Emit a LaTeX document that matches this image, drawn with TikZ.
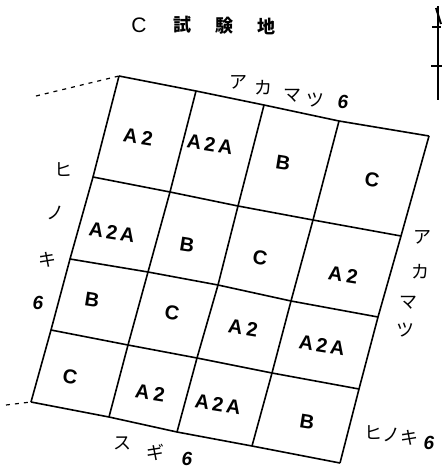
\documentclass[tikz,border=0pt]{standalone}
\usepackage{fontspec}
\setmainfont{Liberation Sans}
\newfontfamily\jp{Noto Sans CJK JP}
\begin{document}
\begin{tikzpicture}[x=1pt,y=-1pt,
  gridline/.style={line width=1.6pt, line join=round},
  cell/.style={font=\fontsize{20}{20}\selectfont\bfseries, rotate=-9, inner sep=0pt},
  jpl/.style={font=\jp\fontsize{18}{18}\selectfont, inner sep=0pt},
  jpt/.style={font=\jp\bfseries\fontsize{18}{18}\selectfont, inner sep=0pt},
  num/.style={font=\fontsize{19}{19}\selectfont\bfseries\itshape, inner sep=0pt},
  dashline/.style={line width=1.2pt, dash pattern=on 4pt off 5pt}]
\useasboundingbox (0,0) rectangle (442,474);
% grid vertices
\coordinate (v00) at (119,76);  \coordinate (v01) at (196,91);  \coordinate (v02) at (264,105); \coordinate (v03) at (339,121); \coordinate (v04) at (429,136);
\coordinate (v10) at (93,177);  \coordinate (v11) at (170,192); \coordinate (v12) at (238,206); \coordinate (v13) at (313,220); \coordinate (v14) at (401,236);
\coordinate (v20) at (70,259);  \coordinate (v21) at (148,272); \coordinate (v22) at (218,285); \coordinate (v23) at (291,301); \coordinate (v24) at (378,317);
\coordinate (v30) at (51,330);  \coordinate (v31) at (128,345); \coordinate (v32) at (197,358); \coordinate (v33) at (272,373); \coordinate (v34) at (359,389);
\coordinate (v40) at (31,402);  \coordinate (v41) at (109,417); \coordinate (v42) at (177,432); \coordinate (v43) at (252,446); \coordinate (v44) at (340,463);
\foreach \r in {0,...,4}{
  \draw[gridline] (v\r0) -- (v\r1) -- (v\r2) -- (v\r3) -- (v\r4);
  \draw[gridline] (v0\r) -- (v1\r) -- (v2\r) -- (v3\r) -- (v4\r);
}
% dashed extensions
\coordinate (d1) at (36,96);
\coordinate (d2) at (6,405);
\draw[dashline] (d1) -- (v00);
\draw[dashline] (d2) -- (v40);
% north marker
\coordinate (n1) at (438,6);
\coordinate (n2) at (438,100);
\draw[line width=1.5pt] (n1) -- (n2);
\coordinate (t1a) at (432,27); \coordinate (t1b) at (441,27);
\coordinate (t2a) at (431,66); \coordinate (t2b) at (442,66);
\draw[line width=1.4pt] (t1a) -- (t1b);
\draw[line width=1.4pt] (t2a) -- (t2b);
\coordinate (na) at (436,8); \coordinate (nb) at (441,24);
\draw[line width=2pt] (na) -- (nb);
% title
\node[font=\fontsize{21}{21}\selectfont, inner sep=0pt] (tC) at (139,25) {C};
\node[jpt] (t1) at (182,25) {試};
\node[jpt] (t2) at (224,26) {験};
\node[jpt] (t3) at (266,26) {地};
% cell labels
\node[cell] (c11) at (138,137) {A\kern4pt2};
\node[cell] (c12) at (210,144) {A\kern3pt2\kern3ptA};
\node[cell] (c13) at (283,163) {B};
\node[cell] (c14) at (372,180) {C};
\node[cell] (c21) at (112,232) {A\kern3pt2\kern3ptA};
\node[cell] (c22) at (187,245) {B};
\node[cell] (c23) at (260,258) {C};
\node[cell] (c24) at (343,275) {A\kern4pt2};
\node[cell] (c31) at (92,300) {B};
\node[cell] (c32) at (172,313) {C};
\node[cell] (c33) at (243,328) {A\kern4pt2};
\node[cell] (c34) at (322,345) {A\kern3pt2\kern3ptA};
\node[cell] (c41) at (70,377) {C};
\node[cell] (c42) at (150,393) {A\kern4pt2};
\node[cell] (c43) at (218,404) {A\kern3pt2\kern3ptA};
\node[cell] (c44) at (307,422) {B};
% top label
\node[jpl] (a1) at (238,82) {ア};
\node[jpl] (a2) at (263,88) {カ};
\node[jpl] (a3) at (292,96) {マ};
\node[jpl] (a4) at (315,100) {ツ};
\node[num] (a5) at (343,102) {6};
% left label
\node[jpl] (h1) at (63,170) {ヒ};
\node[jpl] (h2) at (55,213) {ノ};
\node[jpl] (h3) at (47,260) {キ};
\node[num] (h4) at (38,303) {6};
% right label
\node[jpl] (r1) at (422,237) {ア};
\node[jpl] (r2) at (420,272) {カ};
\node[jpl] (r3) at (408,303) {マ};
\node[jpl] (r4) at (405,330) {ツ};
% bottom right label
\node[jpl] (b1) at (373,433) {ヒ};
\node[jpl] (b2) at (391,435) {ノ};
\node[jpl] (b3) at (409,438) {キ};
\node[num] (b4) at (429,443) {6};
% bottom label
\node[jpl] (s1) at (122,443) {ス};
\node[jpl] (s2) at (155,452) {ギ};
\node[num] (s3) at (187,459) {6};
\end{tikzpicture}
\end{document}
